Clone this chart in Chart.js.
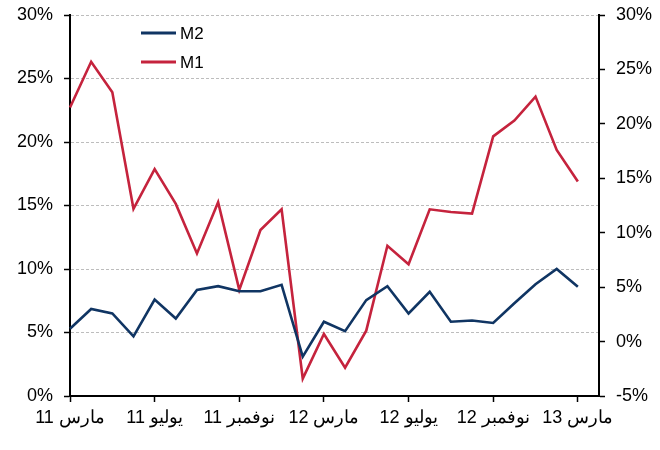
<!DOCTYPE html>
<html>
<head>
<meta charset="utf-8">
<script src="https://cdn.jsdelivr.net/npm/chart.js@4"></script>
<style>
    body { margin: 0; background: #fff; }
    #wrap { width: 660px; height: 450px; }
</style>
</head>
<body>
<div id="wrap"><canvas id="lineChart" width="660" height="450"></canvas></div>
<script>
// monthly categories, Mar 2011 .. Apr 2013 (last one is empty room on the right)
const months = [
    '11 مارس', '11 أبريل', '11 مايو', '11 يونيو', '11 يوليو', '11 أغسطس',
    '11 سبتمبر', '11 أكتوبر', '11 نوفمبر', '11 ديسمبر', '12 يناير', '12 فبراير',
    '12 مارس', '12 أبريل', '12 مايو', '12 يونيو', '12 يوليو', '12 أغسطس',
    '12 سبتمبر', '12 أكتوبر', '12 نوفمبر', '12 ديسمبر', '13 يناير', '13 فبراير',
    '13 مارس', '13 أبريل'
];

// M2 growth, % (left axis)
const m2Values = [5.3, 6.85, 6.5, 4.7, 7.6, 6.1, 8.35, 8.65, 8.25, 8.25, 8.75, 3.1,
    5.85, 5.1, 7.55, 8.65, 6.5, 8.2, 5.85, 5.95, 5.75, 7.3, 8.8, 10.0, 8.6];

// M1 growth, % (right axis)
const m1Values = [21.5, 25.7, 22.9, 12.2, 15.85, 12.65, 8.1, 12.8, 4.75, 10.25, 12.15, -3.4,
    0.7, -2.4, 1.0, 8.8, 7.1, 12.15, 11.9, 11.75, 18.85, 20.3, 22.5, 17.6, 14.7];

const leftTicks = [0, 30, 5];    // min, max, step
const rightTicks = [-5, 30, 5];

const FONT = "'Liberation Sans', Arial, sans-serif";

// simple legend drawn inside the plot, top-left
const insideLegend = {
    id: 'insideLegend',
    afterDraw(chart) {
        const ctx = chart.ctx;
        const x = chart.chartArea.left + 71;
        let y = 33;
        chart.data.datasets.forEach(ds => {
            ctx.save();
            ctx.strokeStyle = ds.borderColor;
            ctx.lineWidth = 3;
            ctx.beginPath();
            ctx.moveTo(x, y);
            ctx.lineTo(x + 35, y);
            ctx.stroke();
            ctx.fillStyle = '#000';
            ctx.font = '17px ' + FONT;
            ctx.textBaseline = 'middle';
            ctx.fillText(ds.label, x + 39, y + 1);
            ctx.restore();
            y += 29;
        });
    }
};

// y axes: fixed width, and no extra top/bottom room for the end labels
function fitY(width) {
    return scale => {
        scale.width = width;
        scale.paddingTop = 0;
        scale.paddingBottom = 0;
    };
}

function renderChart() {
    const ctx = document.getElementById('lineChart').getContext('2d');

    new Chart(ctx, {
        type: 'line',
        data: {
            labels: months,
            datasets: [
                {
                    label: 'M2',
                    data: m2Values,
                    yAxisID: 'y',
                    borderColor: '#103563',
                    borderWidth: 2.6,
                    pointRadius: 0,
                    tension: 0,
                    fill: false
                },
                {
                    label: 'M1',
                    data: m1Values,
                    yAxisID: 'y1',
                    borderColor: '#c5233d',
                    borderWidth: 2.6,
                    pointRadius: 0,
                    tension: 0,
                    fill: false
                }
            ]
        },
        options: {
            responsive: false,
            animation: false,
            layout: { padding: { top: 15, left: 0, right: 0, bottom: 0 } },
            plugins: {
                legend: { display: false },
                tooltip: { enabled: false }
            },
            scales: {
                x: {
                    offset: false,
                    afterFit: scale => { scale.height = 54; },
                    grid: {
                        drawOnChartArea: false,
                        tickLength: 6,
                        tickWidth: 1.5,
                        tickColor: c => (c.index % 4 === 0 ? '#000' : 'rgba(0,0,0,0)')
                    },
                    border: { color: '#000', width: 2 },
                    ticks: {
                        autoSkip: false,
                        maxRotation: 0,
                        padding: 5,
                        color: '#000',
                        font: { family: FONT, size: 18 },
                        callback: function (val, i) {
                            return i % 4 === 0 ? this.getLabelForValue(val) : '';
                        }
                    }
                },
                y: {
                    position: 'left',
                    min: leftTicks[0],
                    max: leftTicks[1],
                    afterFit: fitY(70),
                    grid: {
                        color: c => (c.tick && c.tick.value === 0 ? 'rgba(0,0,0,0)' : '#bdbdbd'),
                        lineWidth: 1,
                        tickLength: 6,
                        tickWidth: 1.5,
                        tickColor: '#000',
                        tickBorderDash: []
                    },
                    border: { color: '#000', width: 2, dash: [3, 2] },
                    ticks: {
                        stepSize: leftTicks[2],
                        padding: 11,
                        color: '#000',
                        font: { family: FONT, size: 18 },
                        callback: v => v + '%'
                    }
                },
                y1: {
                    position: 'right',
                    min: rightTicks[0],
                    max: rightTicks[1],
                    afterFit: fitY(61),
                    grid: {
                        drawOnChartArea: false,
                        tickLength: 6,
                        tickWidth: 1.5,
                        tickColor: '#000'
                    },
                    border: { color: '#000', width: 2 },
                    ticks: {
                        stepSize: rightTicks[2],
                        padding: 11,
                        color: '#000',
                        font: { family: FONT, size: 18 },
                        callback: v => v + '%'
                    }
                }
            }
        },
        plugins: [insideLegend]
    });
}

document.addEventListener('DOMContentLoaded', renderChart);
</script>
</body>
</html>
